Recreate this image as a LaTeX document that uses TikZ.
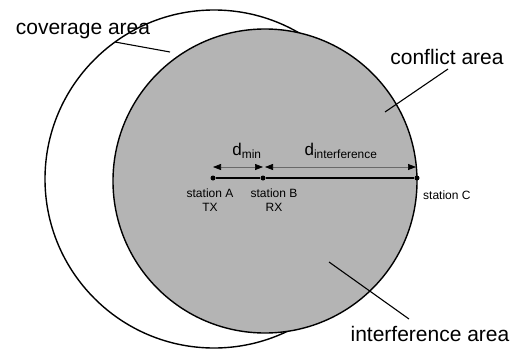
\documentclass[tikz,border=0pt]{standalone}
\usepackage{fontspec}
\setmainfont{Liberation Sans}
\usetikzlibrary{arrows.meta,positioning}
\definecolor{areaGray}{RGB}{180,180,180}
\definecolor{dimGray}{RGB}{105,105,105}

\begin{document}
\begin{tikzpicture}[x=1pt,y=-1pt,
    arealabel/.style={font=\fontsize{21}{24}\selectfont, inner sep=0pt},
    stalabel/.style={font=\fontsize{12}{14}\selectfont, inner sep=0pt, align=center},
    dimlabel/.style={font=\fontsize{17}{20}\selectfont, inner sep=0pt},
    station/.style={circle, fill=black, inner sep=0pt, minimum size=5pt},
    dimline/.style={dimGray, line width=0.7pt, {Triangle[length=8pt,width=6pt,color=black]}-{Triangle[length=8pt,width=6pt,color=black]}},
    leader/.style={black, line width=1.1pt}]

    \useasboundingbox (0,0) rectangle (521,353);

    % =========================
    % areas
    % =========================
    \draw[line width=1.4pt] (214,179) circle (169);
    \draw[line width=1.4pt, fill=areaGray] (265,181) circle (152);

    % =========================
    % stations
    % =========================
    \node[station] (staA) at (213,178) {};
    \node[station] (staB) at (263,178) {};
    \node[station] (staC) at (417,178) {};
    \draw[line width=1.6pt] (staA) -- (staB) -- (staC);

    \node[stalabel] (labA) at (210,200) {station A\\TX};
    \node[stalabel] (labB) at (274,200) {station B\\RX};
    \node[stalabel, anchor=west] (labC) at (423,195) {station C};

    % distances
    \coordinate (dA) at (213,167);
    \coordinate (dB1) at (263,167);
    \coordinate (dB2) at (265,167);
    \coordinate (dC) at (416,167);
    \draw[dimline] (dA) -- (dB1);
    \draw[dimline] (dB2) -- (dC);
    \node[dimlabel] (dmin) at (247,151) {d\textsubscript{min}};
    \node[dimlabel] (dint) at (341,151) {d\textsubscript{interference}};

    % =========================
    % area labels
    % =========================
    \node[arealabel] (coverage) at (83,31) {coverage area};
    \node[arealabel] (conflict) at (447,57) {conflict area};
    \node[arealabel] (interference) at (430,334) {interference area};

    % leaders
    \coordinate (covStart) at (115,42);
    \coordinate (covEnd) at (170,52);
    \coordinate (conStart) at (448,69);
    \coordinate (conEnd) at (385,112);
    \coordinate (intStart) at (409,319);
    \coordinate (intEnd) at (329,262);
    \draw[leader] (covStart) -- (covEnd);
    \draw[leader] (conStart) -- (conEnd);
    \draw[leader] (intStart) -- (intEnd);

\end{tikzpicture}
\end{document}
